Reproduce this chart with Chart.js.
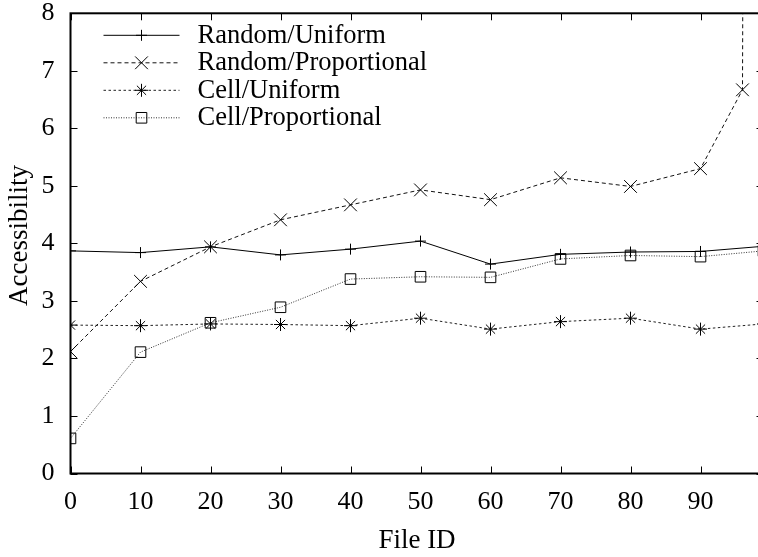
<!DOCTYPE html>
<html><head><meta charset="utf-8">
<script src="https://cdn.jsdelivr.net/npm/chart.js@4/dist/chart.umd.min.js"></script>
<style>
html,body{margin:0;padding:0;overflow:hidden;background:#fff;}
#wrap{position:relative;width:780px;height:557px;}
</style></head><body>
<div id="wrap"><canvas id="c" width="780" height="557"></canvas></div>
<script>
// ---- data ----
const xTickValues = [0,10,20,30,40,50,60,70,80,90];
const yTickValues = [0,1,2,3,4,5,6,7,8];
const seriesNames = ["Random/Uniform","Random/Proportional","Cell/Uniform","Cell/Proportional"];
const fileIds = [0,10,20,30,40,50,60,70,80,90,99];
const randomUniform = [3.87,3.84,3.94,3.80,3.90,4.04,3.64,3.81,3.85,3.86,3.95];
const randomPropIds = [0,10,20,30,40,50,60,70,80,90,96,97];
const randomProportional = [2.12,3.34,3.94,4.41,4.67,4.93,4.76,5.14,4.99,5.30,6.67,45];
const cellUniform = [2.58,2.57,2.60,2.59,2.57,2.70,2.51,2.64,2.70,2.51,2.60];
const cellProportional = [0.61,2.11,2.62,2.89,3.38,3.42,3.41,3.73,3.79,3.77,3.87];
const xTitle = 'File ID';
const yTitle = 'Accessibility';

const pts = (xs, ys) => xs.map((x,i)=>({x:x, y:ys[i]}));
const FONT = "'Liberation Serif', 'Times New Roman', serif";
Chart.defaults.font.family = FONT;
Chart.defaults.font.size = 26;
Chart.defaults.color = '#000';

const styles = [
  {color:'#000', dash:[], pointStyle:'cross', radius:5.5},
  {color:'#111', dash:[4,3], pointStyle:'crossRot', radius:9},
  {color:'#222', dash:[2.5,2.5], pointStyle:'star', radius:6.5},
  {color:'#333', dash:[1,1.5], pointStyle:'rect', radius:7.5}
];
const seriesData = [
  pts(fileIds, randomUniform),
  pts(randomPropIds, randomProportional),
  pts(fileIds, cellUniform),
  pts(fileIds, cellProportional)
];

const datasets = seriesData.map((d,i)=>({
  label: seriesNames[i],
  data: d,
  borderColor: styles[i].color,
  borderWidth: 1,
  borderDash: styles[i].dash,
  pointStyle: styles[i].pointStyle,
  pointRadius: styles[i].radius,
  pointBorderColor: '#000',
  pointBackgroundColor: 'rgba(0,0,0,0)',
  pointBorderWidth: 1,
  pointHoverRadius: styles[i].radius,
  tension: 0,
  fill: false
}));

const frame = {
  id: 'frame',
  afterDraw(chart) {
    const {ctx, chartArea: a, scales: {x, y}} = chart;
    ctx.save();
    const line = (x1,y1,x2,y2)=>{ctx.beginPath();ctx.moveTo(x1,y1);ctx.lineTo(x2,y2);ctx.stroke();};
    ctx.strokeStyle = '#000';
    ctx.setLineDash([]);
    ctx.lineWidth = 1;
    xTickValues.forEach(v=>{
      const px = Math.round(x.getPixelForValue(v)) + 0.5;
      line(px, a.bottom, px, a.bottom - 7);
      line(px, a.top, px, a.top + 7);
    });
    yTickValues.forEach(v=>{
      const py = Math.round(y.getPixelForValue(v)) + 0.5;
      line(a.left, py, a.left + 7, py);
      line(a.right, py, a.right - 7, py);
    });
    ctx.lineWidth = 2;
    ctx.strokeRect(a.left, a.top, a.right - a.left, a.bottom - a.top);
    // y title
    ctx.fillStyle = '#000';
    ctx.font = '27px ' + FONT;
    ctx.textAlign = 'center';
    ctx.textBaseline = 'middle';
    ctx.save();
    ctx.translate(20, (a.top + a.bottom) / 2 - 8);
    ctx.rotate(-Math.PI / 2);
    ctx.fillText(yTitle, 0, 0);
    ctx.restore();
    // key
    ctx.font = '26.5px ' + FONT;
    ctx.textBaseline = 'middle';
    ctx.textAlign = 'left';
    chart.data.datasets.forEach((ds, i)=>{
      const ry = a.top + 21.5 + 27.5 * i;
      const x1 = a.left + 33, x2 = a.left + 109, mx = (x1 + x2) / 2;
      ctx.lineWidth = 1;
      ctx.strokeStyle = ds.borderColor;
      ctx.setLineDash(ds.borderDash);
      line(x1, ry + 0.5, x2, ry + 0.5);
      ctx.setLineDash([]);
      ctx.strokeStyle = '#000';
      ctx.fillStyle = 'rgba(0,0,0,0)';
      Chart.helpers.drawPoint(ctx, {pointStyle: ds.pointStyle, radius: ds.pointRadius, borderWidth: 1, rotation: 0}, mx, ry + 0.5);
      ctx.fillStyle = '#000';
      ctx.fillText(ds.label, a.left + 127, ry + 1);
    });
    ctx.restore();
  }
};

new Chart(document.getElementById('c'), {
  type: 'line',
  data: {datasets},
  plugins: [frame],
  options: {
    responsive: false,
    animation: false,
    devicePixelRatio: 1,
    layout: {padding: {top: 13.3, right: 16.5, left: 0, bottom: 0}},
    plugins: {legend: {display: false}, tooltip: {enabled: false}},
    scales: {
      x: {
        type: 'linear', min: 0, max: 99,
        grid: {display: false, drawTicks: false},
        border: {display: false},
        afterBuildTicks: s => { s.ticks = xTickValues.map(v=>({value: v})); },
        afterFit: s => { s.height = 83.5; s.paddingLeft = 0; s.paddingRight = 0; },
        ticks: {padding: 13, maxRotation: 0, autoSkip: false, font: {size: 26}},
        title: {display: true, text: xTitle, font: {size: 27}, padding: {top: 0, bottom: 0}}
      },
      y: {
        type: 'linear', min: 0, max: 8,
        grid: {display: false, drawTicks: false},
        border: {display: false},
        afterBuildTicks: s => { s.ticks = yTickValues.map(v=>({value: v})); },
        afterFit: s => { s.width = 70.5; s.paddingTop = 0; s.paddingBottom = 0; },
        ticks: {padding: 16, autoSkip: false, font: {size: 26}},
        title: {display: false}
      }
    }
  }
});
</script>
</body></html>
